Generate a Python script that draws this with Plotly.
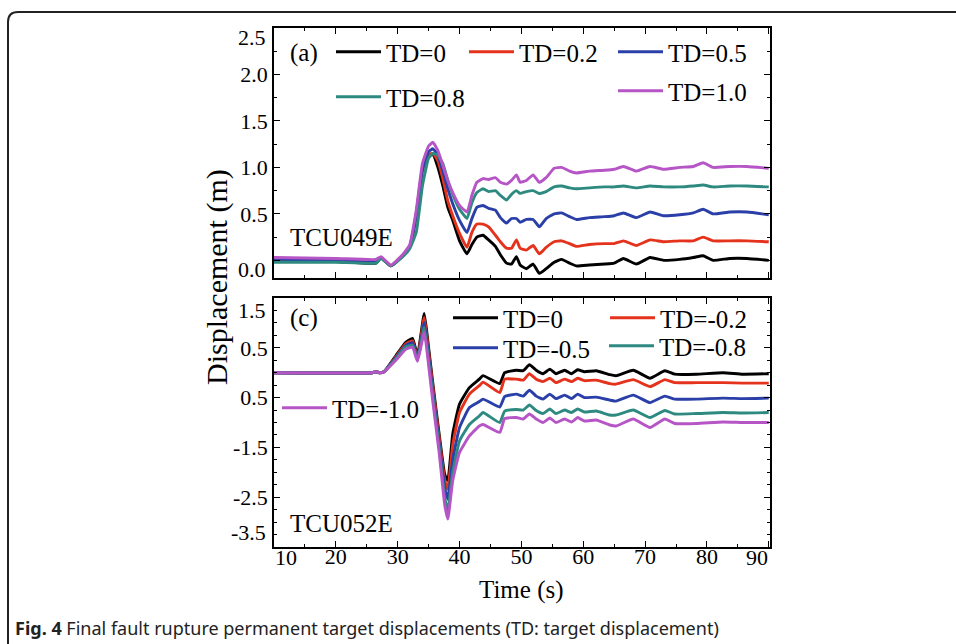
import plotly.graph_objects as go

# ---------------- data ----------------
time_a = [10, 20, 26.5, 27.3, 28.9, 30.5, 31.9, 33.0, 34.0, 35.0, 35.7, 36.5, 37.3, 38.1, 38.9,
          40.0, 41.2, 42.0, 42.8, 43.8, 44.7, 45.8, 46.6, 47.6, 48.4, 49.2, 49.8, 50.8, 51.9,
          52.9, 54.0, 55.3, 56.5, 57.8, 58.9, 61.0, 63.5, 65.0, 66.5, 68.6, 70.8, 73.0, 75.6,
          77.8, 79.4, 81.0, 83.7, 86.5, 90]
a_td00 = [0.0, -0.01, -0.03, 0.03, -0.06, 0.03, 0.14, 0.50, 0.98, 1.12, 1.14, 1.00, 0.80, 0.57, 0.43,
          0.21, 0.07, 0.17, 0.25, 0.27, 0.22, 0.15, 0.06, -0.03, -0.04, 0.04, -0.05, -0.09, -0.04,
          -0.14, -0.09, -0.02, 0.01, -0.03, -0.06, -0.05, -0.04, -0.03, 0.02, -0.04, 0.03, 0.0, 0.01,
          0.03, 0.05, 0.0, 0.02, 0.02, 0.0]
a_td02 = [0.01, 0.0, -0.02, 0.03, -0.06, 0.03, 0.14, 0.47, 0.97, 1.14, 1.15, 1.07, 0.88, 0.64, 0.48,
          0.29, 0.14, 0.30, 0.39, 0.39, 0.36, 0.27, 0.20, 0.13, 0.13, 0.22, 0.13, 0.11, 0.16,
          0.07, 0.14, 0.20, 0.21, 0.18, 0.15, 0.17, 0.18, 0.18, 0.21, 0.16, 0.22, 0.20, 0.21,
          0.21, 0.25, 0.21, 0.21, 0.21, 0.20]
a_td05 = [0.01, 0.0, -0.02, 0.03, -0.06, 0.03, 0.14, 0.48, 0.97, 1.17, 1.20, 1.13, 0.96, 0.77, 0.61,
          0.43, 0.30, 0.45, 0.57, 0.59, 0.56, 0.54, 0.46, 0.40, 0.45, 0.45, 0.41, 0.44, 0.44,
          0.36, 0.45, 0.50, 0.51, 0.47, 0.44, 0.46, 0.47, 0.48, 0.51, 0.46, 0.52, 0.48, 0.49,
          0.51, 0.55, 0.50, 0.52, 0.52, 0.49]
a_td08 = [-0.02, -0.02, -0.03, 0.02, -0.06, 0.02, 0.12, 0.30, 0.80, 1.10, 1.15, 1.13, 1.04, 0.86, 0.71,
          0.55, 0.45, 0.62, 0.73, 0.77, 0.74, 0.75, 0.70, 0.65, 0.71, 0.75, 0.72, 0.74, 0.75,
          0.72, 0.74, 0.79, 0.80, 0.78, 0.77, 0.78, 0.79, 0.79, 0.80, 0.78, 0.80, 0.79, 0.79,
          0.80, 0.81, 0.79, 0.80, 0.80, 0.79]
a_td10 = [0.03, 0.02, 0.01, 0.04, -0.05, 0.04, 0.16, 0.54, 1.04, 1.23, 1.27, 1.18, 1.02, 0.86, 0.73,
          0.59, 0.52, 0.70, 0.84, 0.88, 0.87, 0.89, 0.84, 0.82, 0.86, 0.92, 0.84, 0.86, 0.92,
          0.84, 0.89, 0.99, 1.00, 0.96, 0.94, 0.96, 0.97, 0.98, 1.01, 0.96, 1.01, 0.98, 1.00,
          1.01, 1.05, 1.00, 1.01, 1.01, 0.99]
names_a = ["TD=0", "TD=0.2", "TD=0.5", "TD=0.8", "TD=1.0"]

time_c = [10, 25.9, 26.5, 27.0, 27.8, 29.7, 31.3, 32.4, 33.2, 34.3, 35.0, 35.7, 36.7, 37.6, 38.1,
          38.9, 40.0, 41.6, 43.2, 43.8, 46.5, 47.3, 49.2, 50.3, 51.3, 52.4, 53.5, 54.6, 55.6,
          57.0, 58.1, 59.1, 60.2, 62.1, 64.3, 65.3, 68.1, 70.8, 73.2, 74.8, 78.3, 82.6, 85.8, 90]
c_td00 = [0.0, 0.0, 0.02, 0.0, 0.02, 0.34, 0.61, 0.69, 0.35, 1.19, 0.50, -0.23, -1.23, -2.04, -2.17,
          -1.23, -0.63, -0.30, -0.13, -0.06, -0.22, 0.0, 0.05, 0.04, 0.16, 0.05, -0.02, 0.07, -0.02,
          0.05, -0.02, 0.06, 0.02, 0.04, -0.04, -0.06, 0.05, -0.11, 0.04, -0.03, -0.03, 0.0, -0.03, -0.02]
c_td02 = [0.0, 0.0, 0.02, 0.0, 0.02, 0.32, 0.58, 0.64, 0.31, 1.11, 0.42, -0.30, -1.30, -2.15, -2.34,
          -1.45, -0.80, -0.43, -0.26, -0.19, -0.40, -0.13, -0.13, -0.15, -0.02, -0.13, -0.18, -0.11, -0.20,
          -0.13, -0.18, -0.11, -0.16, -0.15, -0.22, -0.23, -0.14, -0.28, -0.14, -0.20, -0.20, -0.20, -0.21, -0.21]
c_td05 = [0.0, 0.0, 0.02, 0.0, 0.02, 0.30, 0.55, 0.60, 0.28, 1.01, 0.33, -0.40, -1.40, -2.30, -2.54,
          -1.75, -1.10, -0.70, -0.58, -0.53, -0.69, -0.48, -0.43, -0.47, -0.35, -0.47, -0.53, -0.43, -0.52,
          -0.45, -0.52, -0.43, -0.50, -0.49, -0.55, -0.57, -0.45, -0.60, -0.47, -0.53, -0.53, -0.51, -0.52, -0.51]
c_td08 = [0.0, 0.0, 0.02, 0.0, 0.02, 0.28, 0.52, 0.55, 0.26, 0.91, 0.24, -0.50, -1.50, -2.50, -2.77,
          -2.00, -1.37, -1.04, -0.87, -0.80, -1.00, -0.77, -0.74, -0.75, -0.65, -0.76, -0.82, -0.73, -0.82,
          -0.75, -0.80, -0.73, -0.79, -0.77, -0.85, -0.85, -0.75, -0.90, -0.76, -0.83, -0.82, -0.80, -0.81, -0.80]
c_td10 = [0.0, 0.0, 0.02, 0.0, 0.02, 0.25, 0.47, 0.51, 0.23, 0.81, 0.15, -0.60, -1.60, -2.65, -2.94,
          -2.17, -1.60, -1.27, -1.07, -1.04, -1.20, -0.92, -0.90, -0.93, -0.83, -0.93, -1.00, -0.91, -1.00,
          -0.93, -0.99, -0.90, -0.97, -0.95, -1.05, -1.07, -0.93, -1.10, -0.93, -1.02, -1.02, -0.99, -1.00, -1.00]
names_c = ["TD=0", "TD=-0.2", "TD=-0.5", "TD=-0.8", "TD=-1.0"]

x_ticks = [10, 20, 30, 40, 50, 60, 70, 80, 90]
ya_ticks = [2.5, 2.0, 1.5, 1.0, 0.5, 0.0]
ya_text = ["2.5", "2.0", "1.5", "1.0", "0.5", "0.0"]
yc_ticks = [1.5, 0.5, -0.5, -1.5, -2.5, -3.5]
yc_text = ["1.5", "0.5", "0.5", "-1.5", "-2.5", "-3.5"]

# ---------------- styling / layout ----------------
COLORS = ["#000000", "#e5321c", "#2b3fa8", "#2e8a80", "#b655c6"]
SERIF = "Liberation Serif"
W, H = 956, 644
L, R, T, B = 274, 186, 28, 97
PW, PH = W - L - R, H - T - B


def px(x):
    return (x - L) / PW


def py(y):
    return (H - B - y) / PH


fig = go.Figure()

series_a = [a_td00, a_td02, a_td05, a_td08, a_td10]
series_c = [c_td00, c_td02, c_td05, c_td08, c_td10]
legend_pos_a = [(336, 52), (469, 52), (618, 52), (336, 97), (618, 91)]
legend_pos_c = [(453, 318), (610, 318), (453, 348), (609, 346), (282, 408)]

legend_layouts = {}
k = 0
for vals, name, col, pos in zip(series_a, names_a, COLORS, legend_pos_a):
    k += 1
    lg = "legend" if k == 1 else f"legend{k}"
    fig.add_trace(go.Scatter(x=time_a, y=vals, name=name, mode="lines", showlegend=True,
                             line=dict(color=col, width=2.9, shape="spline", smoothing=0.4),
                             xaxis="x", yaxis="y", legend=lg))
    legend_layouts[lg] = pos
for vals, name, col, pos in zip(series_c, names_c, COLORS, legend_pos_c):
    k += 1
    lg = f"legend{k}"
    fig.add_trace(go.Scatter(x=time_c, y=vals, name=name, mode="lines", showlegend=True,
                             line=dict(color=col, width=2.9, shape="spline", smoothing=0.4),
                             xaxis="x2", yaxis="y2", legend=lg))
    legend_layouts[lg] = pos

for lg, (sx, sy) in legend_layouts.items():
    fig.update_layout({lg: dict(x=px(sx - 5), y=py(sy), xanchor="left", yanchor="middle",
                                bgcolor="rgba(0,0,0,0)", borderwidth=0, itemwidth=45,
                                font=dict(family=SERIF, size=25, color="black"))})

common_axis = dict(showline=True, linecolor="black", linewidth=1.5, mirror="allticks",
                   ticks="inside", ticklen=6, tickwidth=1.3, tickcolor="black",
                   showgrid=False, zeroline=False,
                   tickfont=dict(family=SERIF, size=22, color="black"))

top_dom = [py(278), 1.0]
bot_dom = [0.0, py(298)]

fig.update_layout(
    width=W, height=H, showlegend=True,
    margin=dict(l=L, r=R, t=T, b=B),
    paper_bgcolor="white", plot_bgcolor="white",
    xaxis=dict(common_axis, range=[10, 90.2], domain=[0, 1], anchor="y",
               tickvals=x_ticks, showticklabels=False,
               minor=dict(ticks="inside", ticklen=3.5, dtick=5, tick0=0, tickcolor="black", tickwidth=1.2)),
    yaxis=dict(common_axis, range=[-0.19, 2.5], domain=top_dom, anchor="x",
               tickvals=ya_ticks, ticktext=["", "2.0", "1.5", "1.0", "0.5", ""],
               minor=dict(ticks="inside", ticklen=3.5, dtick=0.25, tick0=0, tickcolor="black", tickwidth=1.2)),
    xaxis2=dict(common_axis, range=[10, 90.2], domain=[0, 1], anchor="y2",
                tickvals=x_ticks, ticktext=[""] + [str(v) for v in x_ticks[1:-1]] + [""],
                ticklabelstandoff=-11,
                minor=dict(ticks="inside", ticklen=3.5, dtick=5, tick0=0, tickcolor="black", tickwidth=1.2)),
    yaxis2=dict(common_axis, range=[-3.5, 1.5], domain=bot_dom, anchor="x2",
                tickvals=yc_ticks, ticktext=[""] + yc_text[1:-1] + [""],
                minor=dict(ticks="inside", ticklen=3.5, dtick=0.25, tick0=0, tickcolor="black", tickwidth=1.2)),
)

ann_font = dict(family=SERIF, size=22, color="black")
big_font = dict(family=SERIF, size=25, color="black")
anns = [
    # shifted end tick labels
    dict(text=ya_text[0], x=px(268), xref="paper", y=ya_ticks[0], yref="y", yshift=-9,
         xanchor="right", yanchor="middle", showarrow=False, font=ann_font),
    dict(text=ya_text[-1], x=px(268), xref="paper", y=ya_ticks[-1], yref="y", yshift=-9,
         xanchor="right", yanchor="middle", showarrow=False, font=ann_font),
    dict(text=yc_text[0], x=px(268), xref="paper", y=yc_ticks[0], yref="y2", yshift=-12,
         xanchor="right", yanchor="middle", showarrow=False, font=ann_font),
    dict(text=yc_text[-1], x=px(268), xref="paper", y=yc_ticks[-1], yref="y2", yshift=15,
         xanchor="right", yanchor="middle", showarrow=False, font=ann_font),
    dict(text=str(x_ticks[0]), x=x_ticks[0], xref="x2", xshift=12, y=py(557), yref="paper",
         xanchor="center", yanchor="middle", showarrow=False, font=ann_font),
    dict(text=str(x_ticks[-1]), x=x_ticks[-1], xref="x2", xshift=-12, y=py(557), yref="paper",
         xanchor="center", yanchor="middle", showarrow=False, font=ann_font),
    # panel labels
    dict(text="(a)", x=px(288), y=py(53), xref="paper", yref="paper", xanchor="left",
         yanchor="middle", showarrow=False, font=big_font),
    dict(text="TCU049E", x=px(288), y=py(237), xref="paper", yref="paper", xanchor="left",
         yanchor="middle", showarrow=False, font=big_font),
    dict(text="(c)", x=px(288), y=py(318), xref="paper", yref="paper", xanchor="left",
         yanchor="middle", showarrow=False, font=big_font),
    dict(text="TCU052E", x=px(288), y=py(523), xref="paper", yref="paper", xanchor="left",
         yanchor="middle", showarrow=False, font=big_font),
    # axis titles
    dict(text="Time (s)", x=px(521), y=py(590), xref="paper", yref="paper", xanchor="center",
         yanchor="middle", showarrow=False, font=big_font),
    dict(text="Displacement (m)", x=px(217), y=py(277), xref="paper", yref="paper", xanchor="center",
         yanchor="middle", showarrow=False, textangle=-90, font=dict(family=SERIF, size=30, color="black")),
    # caption
    dict(text="<b>Fig. 4</b> Final fault rupture permanent target displacements (TD: target displacement)",
         x=px(13), y=py(628), xref="paper", yref="paper", xanchor="left", yanchor="middle",
         showarrow=False, font=dict(family="Noto Sans", size=18, color="#222222")),
]
fig.update_layout(annotations=anns)

# rounded card border
rx, ry = 10 / PW, 10 / PH
x0, y0 = px(8), py(12)
path = (f"M{x0},{py(660)} L{x0},{y0 - ry} Q{x0},{y0} {x0 + rx},{y0} L{px(970)},{y0}")
fig.add_shape(type="path", path=path, xref="paper", yref="paper",
              line=dict(color="#222222", width=2))

fig.write_html("out.html", config={"displayModeBar": False},
               post_script="document.body.style.margin='0px';")
